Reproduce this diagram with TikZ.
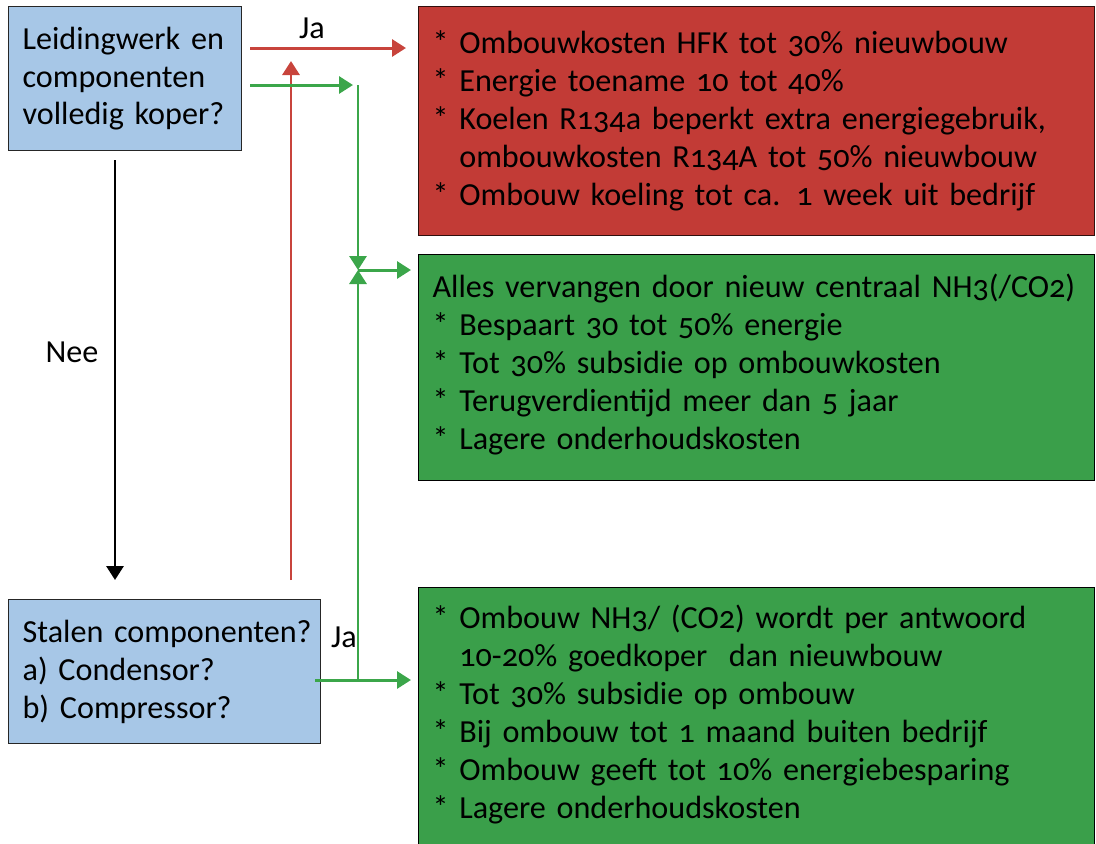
\documentclass[tikz,border=0pt]{standalone}
\usepackage{fontspec}
\setmainfont[Numbers=OldStyle]{Carlito}
\usetikzlibrary{arrows.meta}
\hyphenpenalty=10000

\definecolor{vraagblauw}{HTML}{A7C7E7}
\definecolor{kostenrood}{HTML}{C23B36}
\definecolor{keuzegroen}{HTML}{3A9F4A}
\definecolor{pijlrood}{HTML}{C8443C}
\definecolor{pijlgroen}{HTML}{3BA64A}

\begin{document}
\begin{tikzpicture}[x=0.02cm, y=-0.02cm,
    font=\fontsize{18.3}{21.6}\selectfont,
    blok/.style={anchor=north west, align=left, inner xsep=0.28cm, inner ysep=0pt},
    vraag/.style={blok, draw=black!85, line width=0.7pt, fill=vraagblauw},
    kosten/.style={blok, draw=black!75!kostenrood, line width=0.7pt, fill=kostenrood, text width=12.96cm},
    keuze/.style={blok, draw=black, line width=0.7pt, fill=keuzegroen, text width=12.96cm},
    pijl/.style={line width=1.7pt, -{Triangle[length=0.28cm, width=0.34cm]}},
    tekst/.style={inner sep=0pt}]
\useasboundingbox (0,0) rectangle (1096,843);

            % vragen
            \node[vraag, text width=4.1cm, minimum height=2.88cm] (leiding) at (8,6)
                {Leidingwerk en\\componenten\\volledig koper?};
            \node[vraag, text width=5.68cm, minimum height=2.88cm] (stalen) at (8,599)
                {\mbox{Stalen componenten?}\\a) Condensor?\\b) Compressor?};

            % uitkomsten
            \node[kosten, minimum height=4.58cm] (ombouwHFK) at (418,6)
                {{*} Ombouwkosten HFK tot 30\% nieuwbouw\\
                 {*} Energie toename 10 tot 40\%\\
                 {*} Koelen R134a beperkt extra energiegebruik,\\
                 \phantom{*}\ ombouwkosten R134A tot 50\% nieuwbouw\\
                 {*} Ombouw koeling tot ca. 1 week uit bedrijf};
            \node[keuze, minimum height=4.52cm] (nieuwNH3) at (418,254)
                {Alles vervangen door nieuw centraal NH3(/CO2)\\
                 {*} Bespaart 30 tot 50\% energie\\
                 {*} Tot 30\% subsidie op ombouwkosten\\
                 {*} Terugverdientijd meer dan 5 jaar\\
                 {*} Lagere onderhoudskosten\rule[-0.24cm]{0pt}{0pt}};
            \node[keuze, minimum height=5.4cm] (ombouwNH3) at (418,587)
                {{*} Ombouw NH3/ (CO2) wordt per antwoord\\
                 \phantom{*}\ 10-20\% goedkoper\ \ dan nieuwbouw\\
                 {*} Tot 30\% subsidie op ombouw\\
                 {*} Bij ombouw tot 1 maand buiten bedrijf\\
                 {*} Ombouw geeft tot 10\% energiebesparing\\
                 {*} Lagere onderhoudskosten\rule[-0.44cm]{0pt}{0pt}};

            % losse eindpunten
            \coordinate (neeBegin) at (115,160);
            \coordinate (neeEind) at (115,580);
            \coordinate (roodBegin) at (250,48);
            \coordinate (roodEind) at (406,48);
            \coordinate (roodOnder) at (291,580);
            \coordinate (roodBoven) at (291,61);
            \coordinate (groenBegin) at (250,85);
            \coordinate (groenEind) at (353,85);
            \coordinate (splitsBoven) at (358,85);
            \coordinate (splitsMidden) at (358,270);
            \coordinate (splitsOnder) at (358,680);
            \coordinate (stalenUit) at (315,680);
            \coordinate (nieuwIn) at (411,270);
            \coordinate (ombouwIn) at (411,680);

            \node[tekst] (ja1) at (312,28) {Ja};
            \node[tekst] (nee) at (72,352) {Nee};
            \node[tekst] (ja2) at (344,637) {Ja};

            \draw[pijl] (neeBegin) -- (neeEind);
            \draw[pijl, pijlrood] (roodBegin) -- (roodEind);
            \draw[pijl, pijlrood] (roodOnder) -- (roodBoven);
            \draw[pijl, pijlgroen] (groenBegin) -- (groenEind);
            \draw[pijl, pijlgroen] (splitsBoven) -- (splitsMidden);
            \draw[pijl, pijlgroen] (splitsOnder) -- (splitsMidden);
            \draw[pijl, pijlgroen] (splitsMidden) -- (nieuwIn);
            \draw[pijl, pijlgroen] (stalenUit) -- (ombouwIn);
        \end{tikzpicture}
\end{document}
